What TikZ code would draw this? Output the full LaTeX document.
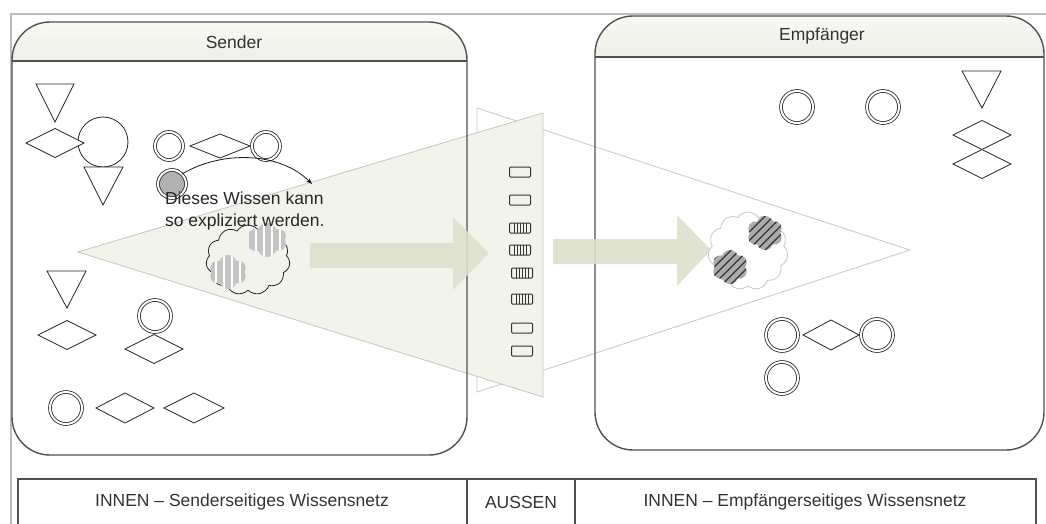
\documentclass[tikz,border=0pt]{standalone}
\usepackage{fontspec}
\setmainfont{Liberation Sans}
\usetikzlibrary{shapes.geometric,shapes.symbols,patterns.meta,arrows.meta}

\definecolor{boxline}{HTML}{505050}
\definecolor{framegray}{HTML}{BDBDBD}
\definecolor{hdtop}{HTML}{F9F9F5}
\definecolor{hdbot}{HTML}{EDEEE6}
\definecolor{conefill}{HTML}{F2F4EC}
\definecolor{coneline}{HTML}{C4C7BC}
\definecolor{arrowfill}{HTML}{DCE0CA}
\definecolor{txt}{HTML}{333333}
\definecolor{blobgray}{HTML}{C4C4C4}
\definecolor{blobdark}{HTML}{ABABAB}

\begin{document}
\begin{tikzpicture}[x=1pt,y=-1pt,
  every node/.style={inner sep=0pt, outer sep=0pt},
  lbl/.style={font=\fontsize{17.5}{22}\selectfont, text=txt},
  shapeline/.style={draw=black!85, line width=0.8pt, fill=white},
  dcirc/.style={circle, shapeline, double=white, double distance=2pt, minimum size=28pt},
  gcirc/.style={dcirc, fill=black!30},
  bigcirc/.style={circle, shapeline, minimum size=50pt},
  rhomb/.style={diamond, shapeline, minimum width=58pt, minimum height=29pt},
  tri/.style={shapeline, line join=miter},
  slot/.style={rectangle, draw=black!80, line width=1pt, rounded corners=1pt,
    minimum width=21pt, minimum height=10pt},
  hslot/.style={slot, path picture={
    \foreach \k in {-6,-3,0,3,6}
      \draw[black!80, line width=0.7pt]
        ([xshift=\k pt]path picture bounding box.north) --
        ([xshift=\k pt]path picture bounding box.south);}},
  boxframe/.style={boxline, line width=1.4pt},
  knowcloud/.style={cloud, cloud puffs=11, cloud puff arc=115, line width=0.8pt},
  lblob/.style={cloud, cloud puffs=6, cloud puff arc=140,
    minimum width=40pt, minimum height=34pt,
    preaction={fill=blobgray},
    pattern={Lines[angle=90,distance=8pt,line width=2pt]}, pattern color=white},
  rblob/.style={cloud, cloud puffs=6, cloud puff arc=140,
    minimum width=36pt, minimum height=34pt,
    preaction={fill=blobdark},
    pattern={Lines[angle=45,distance=6pt,line width=1.2pt]}, pattern color=black!80},
  blockarrow/.style={fill=arrowfill, fill opacity=0.88}
]
\useasboundingbox (0,0) rectangle (1046,523);
\clip (0,0) rectangle (1046,523);
\fill[white] (0,0) rectangle (1046,523);

% outer frame
\draw[framegray, line width=1.8pt] (11,540) -- (11,14) -- (1060,14);

% box backgrounds and header shading
\fill[white, rounded corners=38pt] (12,22) rectangle (467,455);
\fill[white, rounded corners=38pt] (595,16) rectangle (1044,450);
\begin{scope}
  \clip[rounded corners=38pt] (12,22) rectangle (467,455);
  \shade[top color=hdtop, bottom color=hdbot] (12,22) rectangle (467,61);
\end{scope}
\begin{scope}
  \clip[rounded corners=38pt] (595,16) rectangle (1044,450);
  \shade[top color=hdtop, bottom color=hdbot] (595,16) rectangle (1044,57);
\end{scope}

% receiving cone and sending cone
\draw[black!22, line width=0.8pt] (477,108) -- (910,250) -- (477,392) -- cycle;
\fill[conefill, draw=coneline, line width=0.8pt] (78,252) -- (543,113) -- (543,397) -- cycle;

% box outlines
\draw[boxframe, rounded corners=38pt] (12,22) rectangle (467,455);
\draw[boxframe] (12,61) -- (467,61);
\draw[boxframe, rounded corners=38pt] (595,16) rectangle (1044,450);
\draw[boxframe] (595,57) -- (1044,57);

\node[lbl] (sendertitle) at (234,42) {Sender};
\node[lbl] (empftitle) at (822,36) {Empfänger};

% block arrows
\fill[blockarrow] (310,243) -- (453,243) -- (453,217) -- (489,253) -- (453,290)
  -- (453,268) -- (310,268) -- cycle;
\fill[blockarrow] (553,239) -- (677,239) -- (677,215) -- (711,250) -- (677,286)
  -- (677,264) -- (553,264) -- cycle;

% message slots
\node[slot]  (m1) at (520,172) {};
\node[slot]  (m2) at (520,200) {};
\node[hslot] (m3) at (520,228) {};
\node[hslot] (m4) at (520,250) {};
\node[hslot] (m5) at (522,273) {};
\node[hslot] (m6) at (522,299) {};
\node[slot]  (m7) at (522,328) {};
\node[slot]  (m8) at (522,351) {};

% sender knowledge net
\draw[tri] (36,84) -- (74,84) -- (55,122) -- cycle;
\node[bigcirc] (c1) at (103,142) {};
\node[rhomb] (d1) at (55,143) {};
\draw[tri] (84,167) -- (123,167) -- (103,205) -- cycle;
\node[dcirc] (dc1) at (169,146) {};
\node[rhomb, minimum width=60pt, minimum height=24pt] (d2) at (220,146) {};
\node[dcirc] (dc2) at (266,146) {};
\node[gcirc] (sg) at (172,184) {};
\coordinate (expl) at (312,184);
\draw[black!90, line width=0.8pt, -{Stealth[length=6pt,width=4.5pt]}]
  (sg.north east) .. controls (222,150) and (280,152) .. (expl);

\draw[tri] (47,271) -- (86,271) -- (67,308) -- cycle;
\node[rhomb] (d3) at (67,335) {};
\node[dcirc, minimum size=32pt] (dc3) at (155,316) {};
\node[rhomb] (d4) at (154,349) {};
\node[dcirc, minimum size=32pt] (dc4) at (66,408) {};
\node[rhomb, minimum height=30pt] (d5) at (125,408) {};
\node[rhomb, minimum width=60pt, minimum height=30pt] (d6) at (194,408) {};

% implicit knowledge (sender)
\node[knowcloud, draw=black!85, minimum width=84pt, minimum height=70pt] (kc1) at (248,260) {};
\node[lblob] (b1) at (267,240) {};
\node[lblob, minimum width=38pt] (b2) at (228,272) {};

\node[lbl, align=left, anchor=west, text=black!85] (note) at (165,211)
  {Dieses Wissen kann\\so expliziert werden.};

% receiver knowledge net
\node[dcirc, minimum size=32pt] (dc5) at (797,107) {};
\node[dcirc, minimum size=32pt] (dc6) at (883,107) {};
\draw[tri] (962,71) -- (1001,71) -- (982,108) -- cycle;
\node[rhomb] (d7) at (982,135) {};
\node[rhomb] (d8) at (982,164) {};
\node[dcirc, minimum size=32pt] (dc7) at (782,335) {};
\node[rhomb, minimum width=56pt, minimum height=30pt] (d9) at (831,335) {};
\node[dcirc, minimum size=32pt] (dc8) at (877,335) {};
\node[dcirc, minimum size=32pt] (dc9) at (782,378) {};

% received knowledge
\node[knowcloud, draw=black!22, fill=white, minimum width=80pt, minimum height=78pt] (kc2) at (748,251) {};
\node[rblob] (b3) at (765,233) {};
\node[rblob] (b4) at (730,267) {};

% bottom legend
\draw[boxline, line width=1.3pt] (18,540) -- (18,479) -- (1036,479) -- (1036,540);
\draw[boxline, line width=1.3pt] (467,479) -- (467,540);
\draw[boxline, line width=1.3pt] (575,479) -- (575,540);
\node[lbl] (innens) at (242,502) {INNEN – Senderseitiges Wissensnetz};
\node[lbl] (aussen) at (521,502) {AUSSEN};
\node[lbl] (innene) at (805,502) {INNEN – Empfängerseitiges Wissensnetz};
\end{tikzpicture}
\end{document}
